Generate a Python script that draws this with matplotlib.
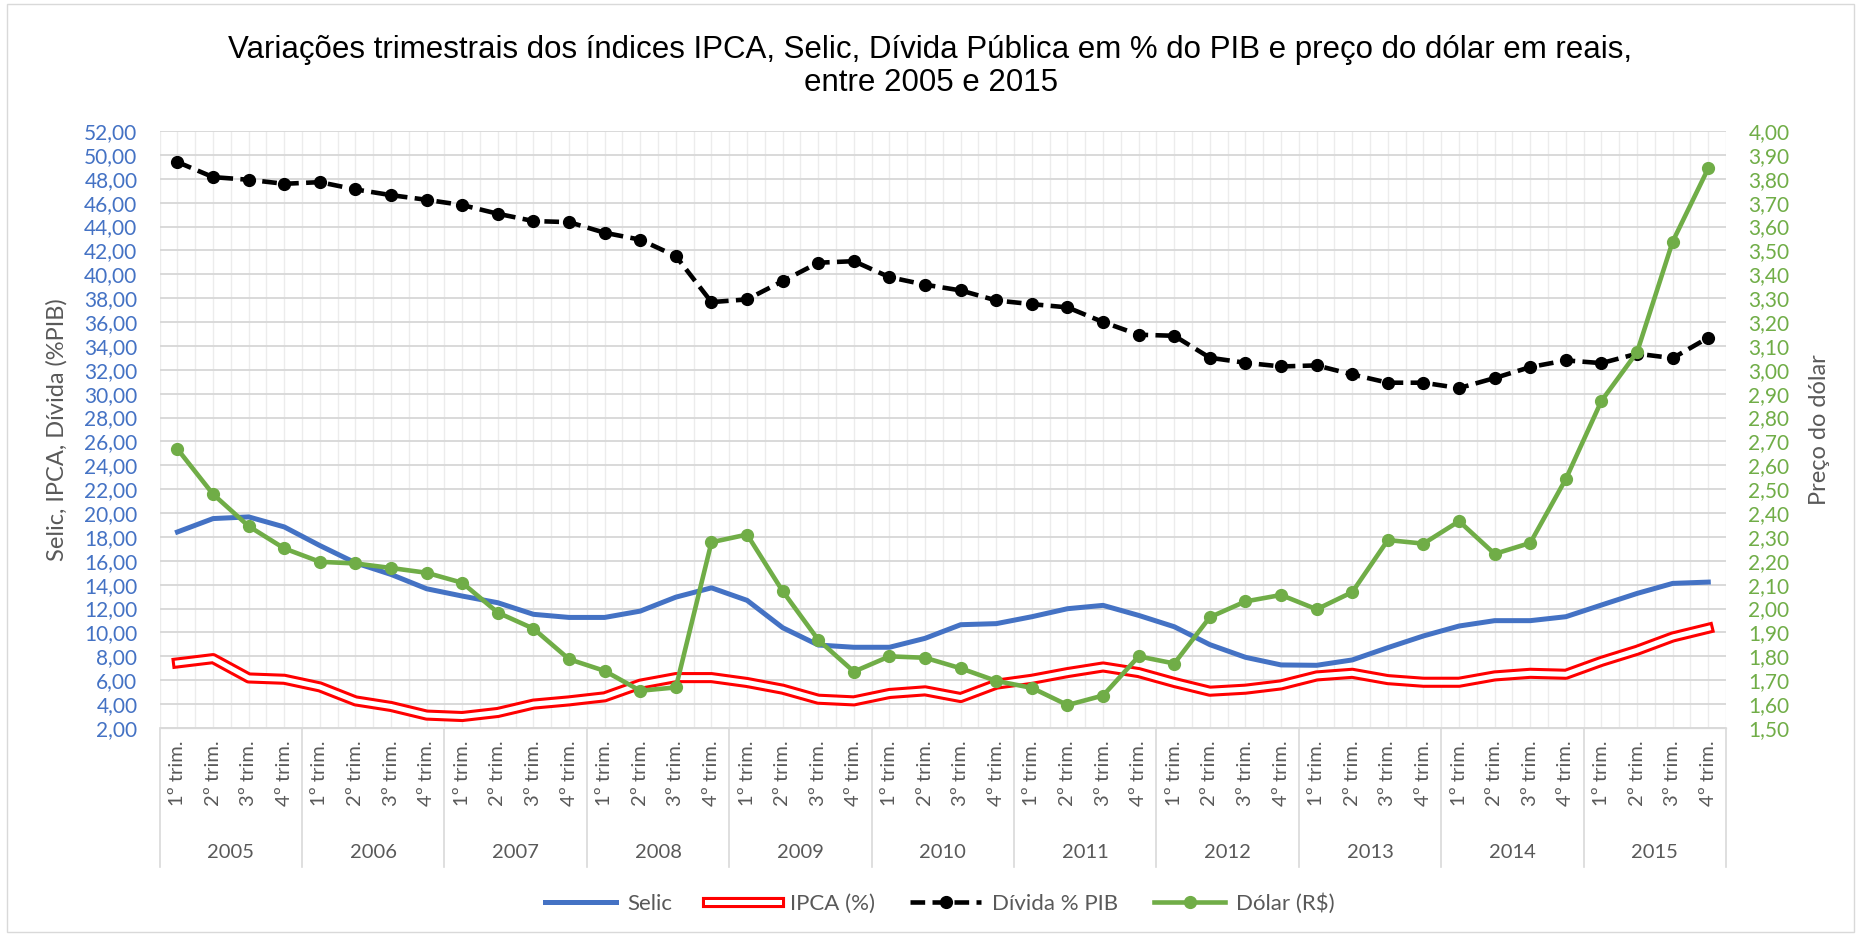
import numpy as np
import matplotlib.pyplot as plt
import matplotlib.patheffects as pe
from matplotlib.patches import Rectangle

anos = ["2005", "2006", "2007", "2008", "2009", "2010",
        "2011", "2012", "2013", "2014", "2015"]
trimestres = ["1º trim.", "2º trim.", "3º trim.", "4º trim."]

selic = [18.42, 19.54, 19.68, 18.84, 17.28, 15.83, 14.86, 13.66,
         13.05, 12.49, 11.52, 11.26, 11.26, 11.79, 12.96, 13.74,
         12.69, 10.40, 8.95, 8.76, 8.76, 9.51, 10.65, 10.74,
         11.32, 11.99, 12.27, 11.43, 10.48, 8.98, 7.92, 7.28,
         7.25, 7.70, 8.73, 9.71, 10.54, 10.99, 10.99, 11.32,
         12.30, 13.27, 14.11, 14.22]

ipca = [7.45, 7.81, 6.19, 6.08, 5.44, 4.27, 3.80, 3.08,
        2.96, 3.30, 4.00, 4.27, 4.61, 5.67, 6.22, 6.22,
        5.81, 5.25, 4.41, 4.27, 4.89, 5.11, 4.55, 5.67,
        6.08, 6.64, 7.11, 6.64, 5.81, 5.08, 5.25, 5.61,
        6.36, 6.58, 6.05, 5.83, 5.83, 6.36, 6.58, 6.50,
        7.58, 8.51, 9.62, 10.35]

divida = [49.40, 48.14, 47.92, 47.58, 47.72, 47.11, 46.63, 46.24,
          45.80, 45.07, 44.46, 44.37, 43.48, 42.90, 41.52, 37.67,
          37.90, 39.43, 40.97, 41.10, 39.76, 39.13, 38.65, 37.81,
          37.50, 37.23, 36.00, 34.94, 34.85, 33.01, 32.59, 32.28,
          32.37, 31.61, 30.92, 30.92, 30.47, 31.31, 32.23, 32.79,
          32.56, 33.35, 32.98, 34.69]

dolar = [2.668, 2.479, 2.345, 2.252, 2.196, 2.189, 2.170, 2.150,
         2.108, 1.983, 1.916, 1.788, 1.739, 1.656, 1.670, 2.278,
         2.310, 2.073, 1.869, 1.736, 1.800, 1.794, 1.750, 1.697,
         1.668, 1.596, 1.636, 1.800, 1.770, 1.964, 2.030, 2.057,
         1.997, 2.069, 2.287, 2.272, 2.366, 2.229, 2.275, 2.543,
         2.870, 3.074, 3.537, 3.844]

plt.rcParams['font.family'] = ['Lato', 'DejaVu Sans']

azul = '#4472C4'
verde = '#70AD47'
cinza = '#595959'

fig = plt.figure(figsize=(18.61, 9.38), dpi=100)
fig.patches.append(Rectangle((0.004, 0.006), 0.992, 0.99, transform=fig.transFigure,
                             fill=False, edgecolor='#d9d9d9', linewidth=1))

ax = fig.add_axes([0.0858, 0.2239, 0.8417, 0.6364])
ax2 = ax.twinx()

x = np.arange(len(selic))

# grade
for v in np.arange(-0.5, len(x), 0.5):
    ax.axvline(v, color='#ececec', lw=1, zorder=0)
ax.set_yticks(np.arange(2, 53, 2))
ax.yaxis.grid(True, color='#d9d9d9', lw=1.4, zorder=0)
ax.set_axisbelow(True)

ax.plot(x, selic, color=azul, lw=3.6, solid_joinstyle='round', label='Selic', zorder=3)
ax.plot(x, ipca, color='white', lw=3.6, solid_joinstyle='round', label='IPCA (%)', zorder=3,
        path_effects=[pe.Stroke(linewidth=8, foreground='#FF0000'), pe.Normal()])
ax.plot(x, divida, color='black', lw=3.3, ls=(0, (3.2, 1.6)), marker='o', ms=8.5,
        label='Dívida % PIB', zorder=4)
ax2.plot(x, dolar, color=verde, lw=3.3, marker='o', ms=8.5, label='Dólar (R$)', zorder=5)

ax.set_xlim(-0.5, len(x) - 0.5)
ax.set_ylim(2, 52)
ax2.set_ylim(1.5, 4.0)
ax2.set_yticks(np.arange(1.5, 4.01, 0.1))

fmt = lambda v: f"{v:.2f}".replace('.', ',')
ax.set_yticklabels([fmt(v) for v in ax.get_yticks()])
ax2.set_yticklabels([fmt(v) for v in ax2.get_yticks()])
ax.tick_params(axis='y', length=0, pad=16, labelsize=15, labelcolor=azul)
ax2.tick_params(axis='y', length=0, pad=16, labelsize=15, labelcolor=verde)

for a in (ax, ax2):
    for s in ('top', 'left', 'right'):
        a.spines[s].set_visible(False)
    a.spines['bottom'].set_color('#d9d9d9')

# eixo de categorias
ax.set_xticks(x)
ax.set_xticklabels(trimestres * len(anos), rotation=90, fontsize=14.5, color=cinza)
ax.tick_params(axis='x', length=0, pad=9)
tr = ax.get_xaxis_transform()
for i in range(len(anos) + 1):
    ax.plot([i * 4 - 0.5] * 2, [0, -0.233], transform=tr, color='#d9d9d9', lw=1.2, clip_on=False)
for i, ano in enumerate(anos):
    ax.text(i * 4 + 1.5, -0.209, ano, transform=tr, ha='center', va='center',
            fontsize=14.5, color=cinza)

ax.set_ylabel('Selic, IPCA, Dívida (%PIB)', fontsize=17, color=cinza, labelpad=12)
ax2.set_ylabel('Preço do dólar', fontsize=17, color=cinza, labelpad=14)

fig.text(0.5, 0.929, 'Variações trimestrais dos índices IPCA, Selic, Dívida Pública em % do PIB e preço do dólar em reais,\nentre 2005 e 2015',
         ha='center', va='center', fontsize=22.5, family='Liberation Sans', linespacing=1.1, color='black')

h1, l1 = ax.get_legend_handles_labels()
h2, l2 = ax2.get_legend_handles_labels()
fig.legend(h1 + h2, l1 + l2, loc='center', bbox_to_anchor=(0.505, 0.037), ncol=4,
           frameon=False, fontsize=16, handlelength=3.2, columnspacing=1.6,
           handletextpad=0.5, labelcolor=cinza)

fig.savefig('out.png', dpi=100)
